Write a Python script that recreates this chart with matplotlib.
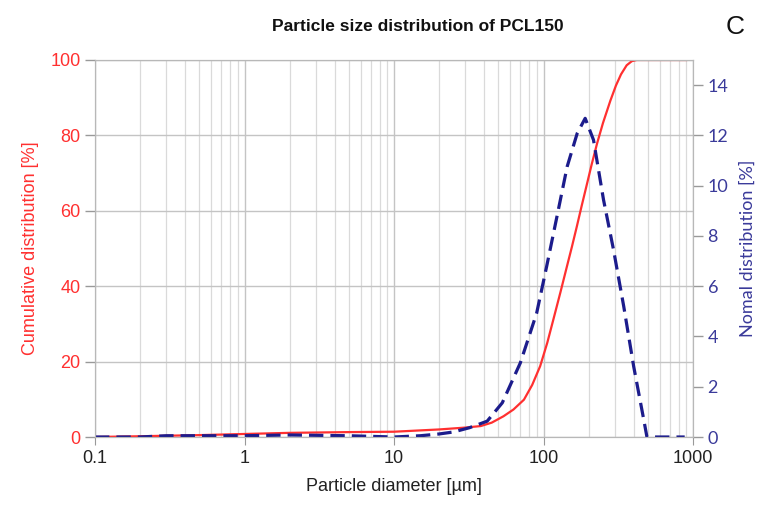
import numpy as np
import matplotlib.pyplot as plt
from matplotlib.ticker import LogLocator, FixedLocator, NullFormatter

plt.rcParams['font.family'] = ['Liberation Sans', 'DejaVu Sans']

# cumulative distribution [%]
d_cum = [0.1, 0.2, 0.5, 1, 2, 5, 10, 20, 30, 38, 45, 54, 63, 74, 84, 95, 106,
         117, 130, 144, 155, 167, 180, 195, 210, 228, 250, 280, 305, 330, 360,
         390, 420, 500, 600, 700, 800, 900]
cum = [0, 0.2, 0.5, 0.8, 1.1, 1.3, 1.4, 2.0, 2.5, 2.9, 3.8, 5.5, 7.3, 9.9, 13.8,
       18.8, 25, 31.5, 38.5, 45.5, 50.5, 55.8, 61.3, 67, 72.3, 77.8, 83.3, 89.2,
       93.2, 96.2, 98.6, 99.7, 100, 100, 100, 100, 100, 100]

# normal (frequency) distribution [%]
d_norm = [0.1, 0.2, 0.3, 0.5, 1, 2, 5, 10, 15, 20, 25, 32, 42, 53, 70, 90, 105,
          123, 144, 168, 190, 216, 252, 294, 344, 401, 468, 492, 600, 700, 880]
norm = [0, 0, 0.05, 0.05, 0.05, 0.08, 0.05, 0, 0.05, 0.12, 0.2, 0.37, 0.63, 1.36,
        2.95, 4.93, 6.79, 8.77, 10.76, 12.08, 12.68, 11.82, 9.44, 7.45, 5.2, 2.81,
        0.7, 0, 0, 0, 0]

red = '#ff3030'
navy = '#1c1c8c'
blue_txt = '#3a3a9a'
gridc = '#c4c4c4'

fig = plt.figure(figsize=(7.77, 5.19), dpi=100)
ax = fig.add_axes([95/777, 1-437/519, (693-95)/777, (437-60)/519])
ax2 = ax.twinx()

ax.set_xscale('log')
ax.set_xlim(0.1, 1000)
ax.set_ylim(0, 100)
ax2.set_ylim(0, 15)

ax.xaxis.set_major_locator(FixedLocator([0.1, 1, 10, 100, 1000]))
ax.set_xticklabels(['0.1', '1', '10', '100', '1000'])
ax.xaxis.set_minor_locator(LogLocator(base=10, subs=np.arange(2, 10)))
ax.xaxis.set_minor_formatter(NullFormatter())
ax.set_yticks([0, 20, 40, 60, 80, 100])
ax2.set_yticks([0, 2, 4, 6, 8, 10, 12, 14])

ax.grid(True, which='major', axis='both', color=gridc, lw=1.0)
ax.grid(True, which='minor', axis='x', color='#dadada', lw=0.9)
ax.set_axisbelow(True)

ax.plot(d_cum, cum, color=red, lw=1.6, zorder=3)
ax2.plot(d_norm, norm, color=navy, lw=2.3, dashes=(4.5, 2.2))

for a in (ax, ax2):
    for s in a.spines.values():
        s.set_color('#b8b8b8')

ax.tick_params(axis='y', labelsize=13, length=7, width=1, color='#999999', labelcolor=red)
ax.tick_params(axis='x', which='major', labelsize=13, length=6, color='#999999', labelcolor='#222222')
ax.tick_params(axis='x', which='minor', length=0)
ax2.tick_params(axis='y', labelsize=13, length=7, width=1, color='#999999', labelcolor=blue_txt)
for lab in ax2.get_yticklabels():
    lab.set_family(['Lato', 'DejaVu Sans'])

ax.set_xlabel('Particle diameter [µm]', fontsize=13, color='#222222', labelpad=8)
ax.set_ylabel('Cumulative distribution [%]', fontsize=13, color=red, labelpad=8)
ax2.set_ylabel('Nomal distribution [%]', fontsize=13, color=blue_txt, labelpad=8,
               family=['Lato', 'DejaVu Sans'])

fig.text(0.538, 0.948, 'Particle size distribution of PCL150', fontsize=12.5,
         fontweight='bold', ha='center', va='center', color='#111111')
fig.text(0.946, 0.948, 'C', fontsize=19, ha='center', va='center', color='#111111')

fig.savefig('out.png', dpi=100)
